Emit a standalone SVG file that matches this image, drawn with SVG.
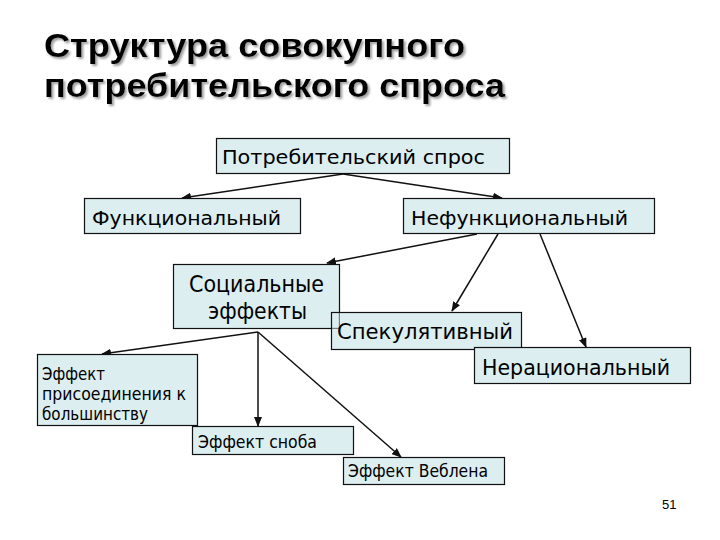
<svg xmlns="http://www.w3.org/2000/svg" width="720" height="540" viewBox="0 0 720 540">
<style>
.box{fill:#dceef0;stroke:#111;stroke-width:1.2}
.t{font-family:"DejaVu Sans",Verdana,sans-serif;fill:#000}
.title{font-family:"Liberation Sans",Arial,sans-serif;font-weight:bold;font-size:33px;fill:#000}
.c{stroke:#111;stroke-width:1.5;fill:none;marker-end:url(#ah)}
</style>
<defs>
<marker id="ah" markerWidth="10" markerHeight="8" refX="9" refY="4" orient="auto" markerUnits="userSpaceOnUse">
<path d="M0,0 L10,4 L0,8 Z" fill="#111"/>
</marker>
<filter id="sh" x="-5%" y="-20%" width="110%" height="150%">
<feDropShadow dx="2" dy="2" stdDeviation="1" flood-color="#888" flood-opacity="0.8"/>
</filter>
</defs>
<rect width="720" height="540" fill="#fff"/>
<g id="title" filter="url(#sh)">
<text class="title" x="44" y="57" textLength="421" lengthAdjust="spacingAndGlyphs">Структура совокупного</text>
<text class="title" x="44" y="97" textLength="461" lengthAdjust="spacingAndGlyphs">потребительского спроса</text>
</g>
<g id="connectors">
<line class="c" x1="343" y1="174" x2="182" y2="198"/>
<line class="c" x1="343" y1="174" x2="502" y2="198"/>
<line class="c" x1="477" y1="234" x2="327" y2="263"/>
<line class="c" x1="498" y1="234" x2="452" y2="311"/>
<line class="c" x1="540" y1="234" x2="586" y2="347"/>
<line class="c" x1="258" y1="332" x2="102" y2="354"/>
<line class="c" x1="258" y1="332" x2="258" y2="426"/>
<line class="c" x1="258" y1="332" x2="401" y2="457"/>
</g>
<g id="n-potreb">
<rect class="box" x="216.5" y="138.5" width="293" height="35"/>
<text class="t" x="222" y="164" font-size="20" textLength="263" lengthAdjust="spacingAndGlyphs">Потребительский спрос</text>
</g>
<g id="n-func">
<rect class="box" x="84.5" y="198.5" width="216" height="35"/>
<text class="t" x="92" y="225" font-size="20" textLength="189" lengthAdjust="spacingAndGlyphs">Функциональный</text>
</g>
<g id="n-nefunc">
<rect class="box" x="403.5" y="198.5" width="251" height="35"/>
<text class="t" x="411" y="225" font-size="20" textLength="217" lengthAdjust="spacingAndGlyphs">Нефункциональный</text>
</g>
<g id="n-social">
<rect class="box" x="173.5" y="264.5" width="166" height="64"/>
<text class="t" x="189" y="292" font-size="23" textLength="135" lengthAdjust="spacingAndGlyphs">Социальные</text>
<text class="t" x="208" y="319" font-size="23" textLength="99" lengthAdjust="spacingAndGlyphs">эффекты</text>
</g>
<g id="n-spek">
<path d="M339.5,312.5 H521.5 V349.5 H331.5 V328.5 H339.5 Z" fill="#dceef0"/>
<rect x="331.5" y="312.5" width="190" height="37" fill="none" stroke="#111" stroke-width="1.2"/>
<text class="t" x="337" y="339" font-size="22" textLength="176" lengthAdjust="spacingAndGlyphs">Спекулятивный</text>
</g>
<g id="n-nerac">
<rect class="box" x="474.5" y="347.5" width="216" height="36"/>
<text class="t" x="482" y="375" font-size="21" textLength="188" lengthAdjust="spacingAndGlyphs">Нерациональный</text>
</g>
<g id="n-prisoed">
<rect class="box" x="37.5" y="354.5" width="160" height="71"/>
<text class="t" x="42" y="380" font-size="17" textLength="63" lengthAdjust="spacingAndGlyphs">Эффект</text>
<text class="t" x="42" y="400" font-size="17" textLength="144" lengthAdjust="spacingAndGlyphs">присоединения к</text>
<text class="t" x="42" y="420" font-size="17" textLength="106" lengthAdjust="spacingAndGlyphs">большинству</text>
</g>
<g id="n-snob">
<rect class="box" x="192.5" y="426.5" width="161" height="28"/>
<text class="t" x="198" y="448" font-size="17" textLength="119" lengthAdjust="spacingAndGlyphs">Эффект сноба</text>
</g>
<g id="n-veblen">
<rect class="box" x="343.5" y="457.5" width="161" height="27"/>
<text class="t" x="348" y="477" font-size="17" textLength="140" lengthAdjust="spacingAndGlyphs">Эффект Веблена</text>
</g>
<text x="662" y="509" font-family="Liberation Sans,Arial,sans-serif" font-size="13" fill="#000">51</text>
</svg>
